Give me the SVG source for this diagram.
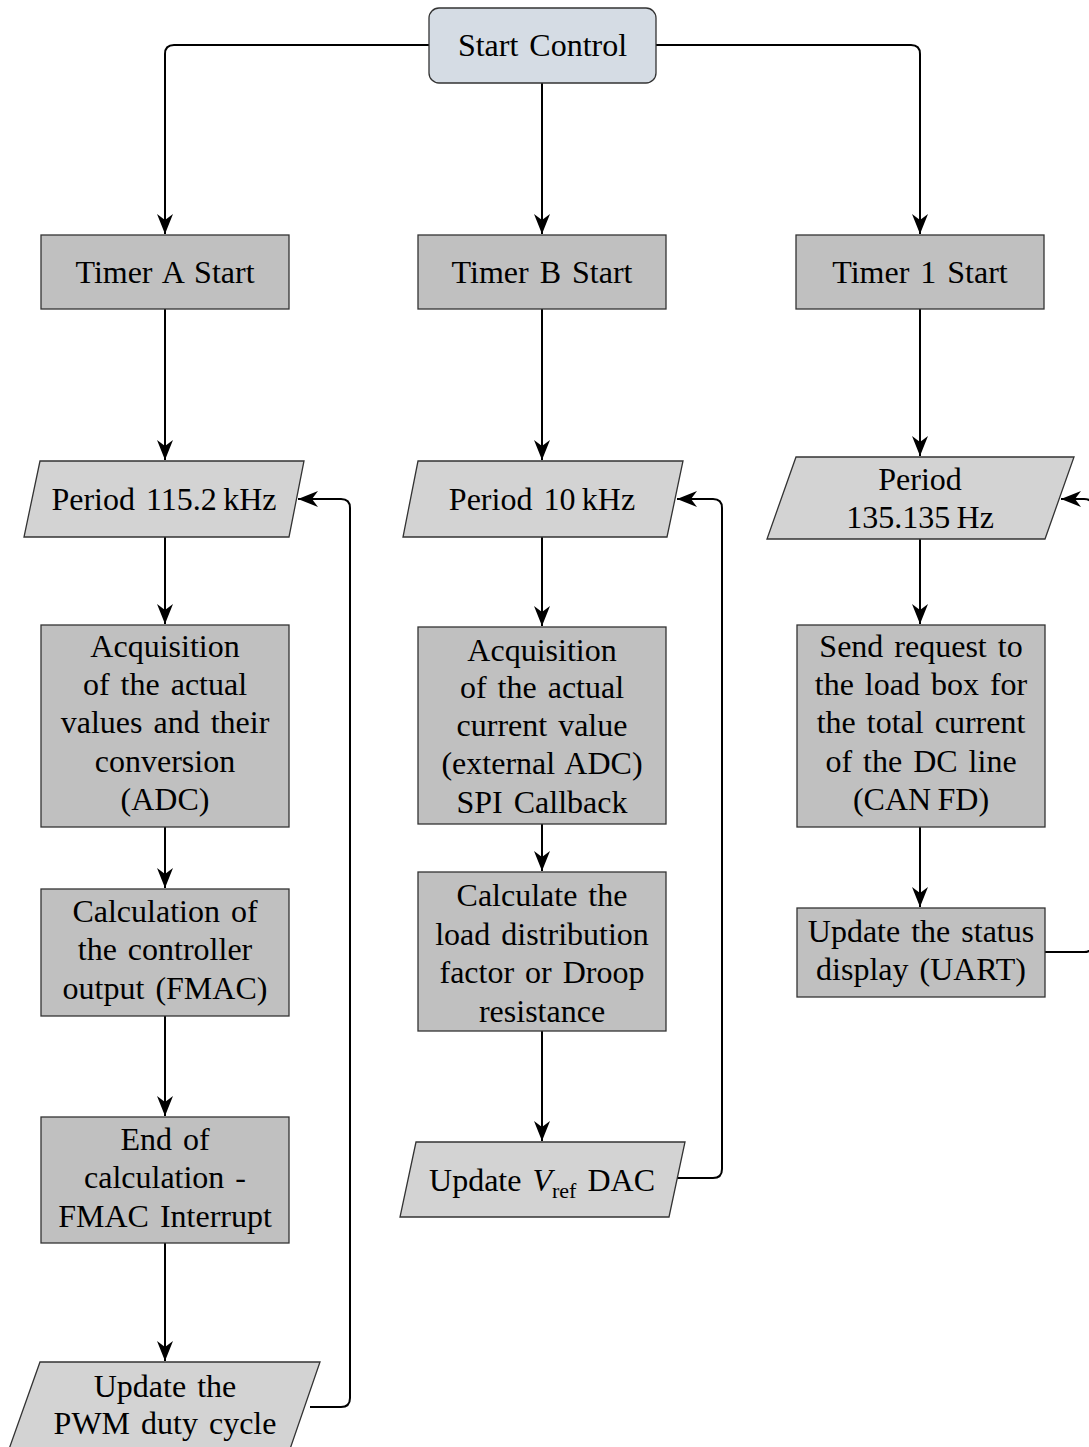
<svg xmlns="http://www.w3.org/2000/svg" width="1089" height="1447" viewBox="0 0 1089 1447">
  <defs>
    <marker id="arrow" viewBox="-22 -10 24 20" refX="0" refY="0" markerWidth="24" markerHeight="20" markerUnits="userSpaceOnUse" orient="auto">
      <path d="M0,0 L-20,-8 L-14,0 L-20,8 Z" fill="#000"/>
    </marker>
  </defs>
  <style>
    text { font-family: "Liberation Serif", "Times New Roman", serif; font-size: 32px; word-spacing: 3px; fill: #000; text-anchor: middle; }
    .start { fill: #d5dce4; stroke: #333; stroke-width: 1.3; }
    .proc { fill: #c0c0c0; stroke: #333; stroke-width: 1.3; }
    .io { fill: #d3d3d3; stroke: #333; stroke-width: 1.3; }
    .edge { fill: none; stroke: #000; stroke-width: 2; marker-end: url(#arrow); }
  </style>

  <rect width="1089" height="1447" fill="#fff"/>

  <!-- connectors -->
  <g id="connectors">
    <path class="edge" d="M542,83 V234"/>
    <path class="edge" d="M429,45 H174 Q165,45 165,54 V234"/>
    <path class="edge" d="M656,45 H911 Q920,45 920,54 V234"/>

    <path class="edge" d="M165,309 V460"/>
    <path class="edge" d="M165,537 V624"/>
    <path class="edge" d="M165,827 V888"/>
    <path class="edge" d="M165,1016 V1116"/>
    <path class="edge" d="M165,1243 V1361"/>
    <path class="edge" d="M310,1407 H341 Q350,1407 350,1398 V508 Q350,499 341,499 H298"/>

    <path class="edge" d="M542,309 V460"/>
    <path class="edge" d="M542,537 V626"/>
    <path class="edge" d="M542,824 V871"/>
    <path class="edge" d="M542,1031 V1141"/>
    <path class="edge" d="M676,1178 H713 Q722,1178 722,1169 V508 Q722,499 713,499 H677"/>

    <path class="edge" d="M920,309 V456"/>
    <path class="edge" d="M920,539 V624"/>
    <path class="edge" d="M920,827 V907"/>
    <path class="edge" d="M1045,952 H1084 Q1093,952 1093,943 V508 Q1093,499 1084,499 H1061"/>
  </g>

  <!-- start node -->
  <g id="start-control">
    <rect class="start" x="429" y="8" width="227" height="75" rx="10"/>
    <text x="542.5" y="56">Start Control</text>
  </g>

  <!-- timers -->
  <g id="timer-a">
    <rect class="proc" x="41" y="235" width="248" height="74"/>
    <text x="165" y="283">Timer A Start</text>
  </g>
  <g id="timer-b">
    <rect class="proc" x="418" y="235" width="248" height="74"/>
    <text x="542" y="283">Timer B Start</text>
  </g>
  <g id="timer-1">
    <rect class="proc" x="796" y="235" width="248" height="74"/>
    <text x="920" y="283">Timer 1 Start</text>
  </g>

  <!-- column A: 115.2 kHz loop -->
  <g id="period-a">
    <polygon class="io" points="40,461 304,461 289,537 24,537"/>
    <text x="164" y="510">Period 115.2&#8201;kHz</text>
  </g>
  <g id="acq-a">
    <rect class="proc" x="41" y="625" width="248" height="202"/>
    <text x="165" y="657">Acquisition</text>
    <text x="165" y="695">of the actual</text>
    <text x="165" y="733">values and their</text>
    <text x="165" y="772">conversion</text>
    <text x="165" y="810">(ADC)</text>
  </g>
  <g id="calc-a">
    <rect class="proc" x="41" y="889" width="248" height="127"/>
    <text x="165" y="922">Calculation of</text>
    <text x="165" y="960">the controller</text>
    <text x="165" y="999">output (FMAC)</text>
  </g>
  <g id="end-a">
    <rect class="proc" x="41" y="1117" width="248" height="126"/>
    <text x="165" y="1150">End of</text>
    <text x="165" y="1188">calculation -</text>
    <text x="165" y="1227">FMAC Interrupt</text>
  </g>
  <g id="pwm-a">
    <polygon class="io" points="40,1362 320,1362 289,1452 8,1452"/>
    <text x="165" y="1397">Update the</text>
    <text x="165" y="1434">PWM duty cycle</text>
  </g>

  <!-- column B: 10 kHz loop -->
  <g id="period-b">
    <polygon class="io" points="418,461 683,461 667,537 403,537"/>
    <text x="542" y="510">Period 10&#8201;kHz</text>
  </g>
  <g id="acq-b">
    <rect class="proc" x="418" y="627" width="248" height="197"/>
    <text x="542" y="661">Acquisition</text>
    <text x="542" y="698">of the actual</text>
    <text x="542" y="736">current value</text>
    <text x="542" y="774">(external ADC)</text>
    <text x="542" y="813">SPI Callback</text>
  </g>
  <g id="calc-b">
    <rect class="proc" x="418" y="872" width="248" height="159"/>
    <text x="542" y="906">Calculate the</text>
    <text x="542" y="945">load distribution</text>
    <text x="542" y="983">factor or Droop</text>
    <text x="542" y="1022">resistance</text>
  </g>
  <g id="dac-b">
    <polygon class="io" points="416,1142 685,1142 669,1217 400,1217"/>
    <text x="542" y="1191">Update <tspan font-style="italic">V</tspan><tspan font-size="22" dy="7">ref</tspan><tspan dy="-7"> DAC</tspan></text>
  </g>

  <!-- column C: 135.135 Hz loop -->
  <g id="period-c">
    <polygon class="io" points="796,457 1074,457 1045,539 767,539"/>
    <text x="920" y="490">Period</text>
    <text x="920" y="528">135.135&#8201;Hz</text>
  </g>
  <g id="send-c">
    <rect class="proc" x="797" y="625" width="248" height="202"/>
    <text x="921" y="657">Send request to</text>
    <text x="921" y="695">the load box for</text>
    <text x="921" y="733">the total current</text>
    <text x="921" y="772">of the DC line</text>
    <text x="921" y="810">(CAN&#8201;FD)</text>
  </g>
  <g id="status-c">
    <rect class="proc" x="797" y="908" width="248" height="89"/>
    <text x="921" y="942">Update the status</text>
    <text x="921" y="980">display (UART)</text>
  </g>
</svg>
